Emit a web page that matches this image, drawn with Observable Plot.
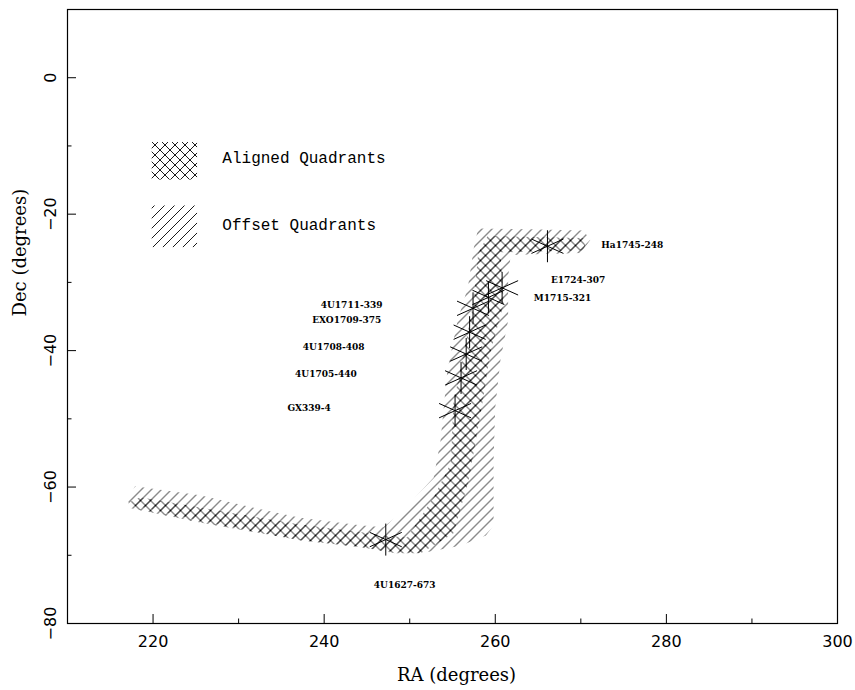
<!DOCTYPE html>
<html><head><meta charset="utf-8">
<script src="https://cdn.jsdelivr.net/npm/d3@7"></script>
<script src="https://cdn.jsdelivr.net/npm/@observablehq/plot@0.6"></script>
<style>body{margin:0;background:#fff} #chart{position:absolute;left:0;top:0}</style>
</head><body><div id="chart"></div>
<script>
// Outline of the "Offset Quadrants" region (RA, Dec in degrees)
const offsetRA  = [217.1,217.9,225.5,233.1,237.2,244.2,246.9,248.9,252.8,253.6,254.4,255.6,256.8,257.5,258.0,264.1,270.3,271.1,270.0,261.8,261.5,261.5,260.6,260.0,259.8,259.8,258.9,255.9,251.3,246.9,244.2,237.2,225.5,217.9,217.1];
const offsetDec = [-61.7,-59.9,-61.2,-63.4,-64.5,-65.6,-65.9,-63.9,-58.6,-53.2,-42.9,-35.6,-30.7,-24.9,-22.1,-22.2,-22.4,-23.8,-25.7,-26.0,-29.3,-35.6,-41.4,-48.3,-56.1,-65.6,-67.1,-68.6,-69.7,-69.3,-68.8,-67.8,-64.9,-62.7,-62.2];
// Outline of the "Aligned Quadrants" region
const alignedRA  = [217.1,218.5,225.5,237.2,244.2,246.9,249.7,252.8,254.8,255.1,256.3,257.5,258.0,259.1,270.3,270.5,270.3,260.6,261.0,259.4,258.5,257.1,256.8,255.1,251.3,248.3,244.2,237.2,225.5,217.4];
const alignedDec = [-62.3,-61.5,-63.0,-65.5,-66.6,-67.1,-67.4,-61.5,-56.5,-47.7,-40.4,-32.6,-25.7,-23.2,-23.5,-24.6,-25.3,-25.6,-33.1,-40.4,-47.7,-57.6,-59.5,-66.8,-69.7,-69.7,-68.8,-67.8,-65.2,-63.1];

// X-ray sources
const sourceNames = ["Ha1745-248","E1724-307","M1715-321","4U1711-339","EXO1709-375","4U1708-408","4U1705-440","GX339-4","4U1627-673"];
const sourceRA  = [266.1,260.8,259.2,257.4,257.0,256.6,256.0,255.3,247.2];
const sourceDec = [-24.7,-30.8,-32.2,-33.8,-37.3,-40.5,-44.0,-48.8,-67.7];
const labelRA   = [272.4,266.5,264.5,239.6,238.6,237.5,236.6,235.7,245.8];
const labelDec  = [-24.6,-29.6,-32.3,-33.4,-35.6,-39.5,-43.5,-48.5,-74.4];

// Legend
const legendLabels = ["Aligned Quadrants","Offset Quadrants"];
const legendFills  = ["url(#crossHatch)","url(#diagHatch)"];
const legendRA1 = [219.9,219.9], legendRA2 = [225.2,225.2];
const legendDecTop = [-9.5,-18.8], legendDecBottom = [-15.0,-24.9];
const legendTextRA = [228.1,228.1], legendTextDec = [-11.8,-21.6];

// Axes
const xTicks = [220,240,260,280,300];
const xMinor = [230,250,270,290];
const yTicks = [0,-20,-40,-60,-80];
const yMinor = [-10,-30,-50,-70];

const asterisk = {
  draw(ctx, size) {
    const r = Math.sqrt(size / Math.PI);
    ctx.moveTo(0, -r); ctx.lineTo(0, r);
    ctx.moveTo(-r, -0.45 * r); ctx.lineTo(r, 0.45 * r);
    ctx.moveTo(-r, 0.45 * r); ctx.lineTo(r, -0.45 * r);
  }
};

const W = 855, H = 690, mL = 67, mR = 18, mT = 9, mB = 67;
const innerW = W - mL - mR, innerH = H - mT - mB;

const offIdx = d3.range(offsetRA.length);
const alIdx = d3.range(alignedRA.length);
const srcIdx = d3.range(sourceNames.length);
const legIdx = d3.range(legendLabels.length);

const chart = Plot.plot({
  width: W, height: H,
  marginLeft: mL, marginRight: mR, marginTop: mT, marginBottom: mB,
  x: {domain: [210, 300]},
  y: {domain: [-80, 10]},
  style: {background: "white", color: "black"},
  marks: [
    Plot.line(offIdx, {x: i => offsetRA[i], y: i => offsetDec[i], curve: "linear-closed", fill: "url(#diagHatch)", stroke: "none"}),
    Plot.line(alIdx, {x: i => alignedRA[i], y: i => alignedDec[i], curve: "linear-closed", fill: "url(#crossHatch)", stroke: "none"}),
    Plot.rect(legIdx, {x1: i => legendRA1[i], x2: i => legendRA2[i], y1: i => legendDecTop[i], y2: i => legendDecBottom[i], fill: i => legendFills[i]}),
    Plot.text(legIdx, {x: i => legendTextRA[i], y: i => legendTextDec[i], text: i => legendLabels[i], textAnchor: "start", fontFamily: "Liberation Mono", fontSize: 16, fill: "black"}),
    Plot.dot(srcIdx, {x: i => sourceRA[i], y: i => sourceDec[i], symbol: asterisk, r: 16, stroke: "black", strokeWidth: 1, fill: "none"}),
    Plot.text(srcIdx, {x: i => labelRA[i], y: i => labelDec[i], text: i => sourceNames[i], textAnchor: "start", fontFamily: "DejaVu Serif", fontWeight: "bold", fontSize: 9, fill: "black"}),
    Plot.ruleX(xTicks, {x: d => d, insetTop: innerH - 9, stroke: "black"}),
    Plot.ruleX(xMinor, {x: d => d, insetTop: innerH - 4.5, stroke: "black"}),
    Plot.ruleY(yTicks, {y: d => d, insetRight: innerW - 9, stroke: "black"}),
    Plot.ruleY(yMinor, {y: d => d, insetRight: innerW - 4.5, stroke: "black"}),
    Plot.axisX({ticks: xTicks, tickSize: 0, tickPadding: 12, label: null, fontSize: 16, fontFamily: "DejaVu Sans", tickFormat: d => String(d)}),
    Plot.axisY({ticks: yTicks, tickSize: 0, tickPadding: 12, tickRotate: -90, label: null, fontSize: 16, fontFamily: "DejaVu Sans", tickFormat: d => d < 0 ? "\u2212" + Math.abs(d) : String(d)}),
    Plot.text(["RA (degrees)"], {frameAnchor: "bottom", dx: 4, dy: 57, fontFamily: "DejaVu Serif", fontSize: 18, fill: "black"}),
    Plot.text(["Dec (degrees)"], {frameAnchor: "left", dx: -47, rotate: -90, fontFamily: "DejaVu Serif", fontSize: 18, fill: "black"}),
    Plot.frame({stroke: "black", strokeWidth: 1.2})
  ]
});

const svg = chart.tagName.toLowerCase() === "svg" ? chart : chart.querySelector("svg");
const defs = d3.select(svg).insert("defs", ":first-child");
const s = 10;
const p1 = defs.append("pattern").attr("id", "diagHatch").attr("patternUnits", "userSpaceOnUse").attr("width", s).attr("height", s);
p1.append("path").attr("d", `M-2,2 L2,-2 M0,${s} L${s},0 M${s-2},${s+2} L${s+2},${s-2}`).attr("stroke", "black").attr("stroke-width", 0.9);
const p2 = defs.append("pattern").attr("id", "crossHatch").attr("patternUnits", "userSpaceOnUse").attr("width", s).attr("height", s);
p2.append("path").attr("d", `M-2,2 L2,-2 M0,${s} L${s},0 M${s-2},${s+2} L${s+2},${s-2} M0,0 L${s},${s} M-2,${s-2} L2,${s+2} M${s-2},-2 L${s+2},2`).attr("stroke", "black").attr("stroke-width", 0.9);

document.getElementById("chart").appendChild(chart);
</script>
</body></html>
